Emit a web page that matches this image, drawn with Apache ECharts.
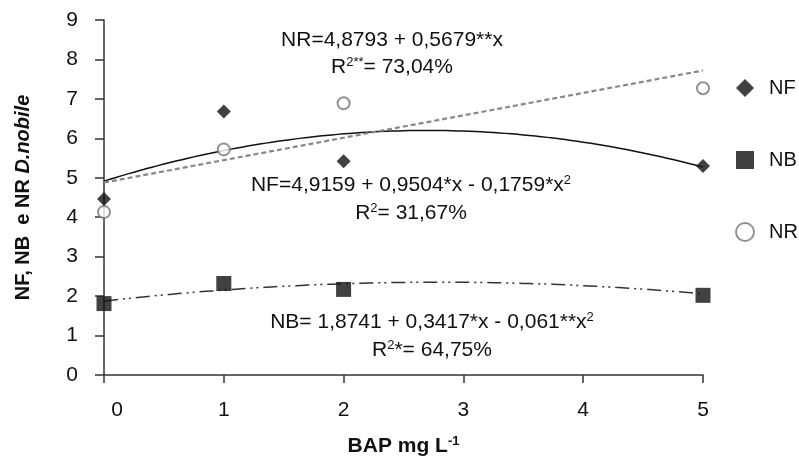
<!DOCTYPE html>
<html>
<head>
<meta charset="utf-8">
<script src="https://cdn.jsdelivr.net/npm/echarts@6/dist/echarts.min.js"></script>
<style>
  html, body { margin: 0; padding: 0; background: #fff; }
  #chart { width: 799px; height: 462px; }
</style>
</head>
<body>
<div id="chart"></div>
<script>
// BAP doses (mg L-1)
const doses = [0, 1, 2, 5];
// observed means per dose
const nfValues = [4.46, 6.68, 5.42, 5.30];
const nbValues = [1.81, 2.32, 2.17, 2.02];
const nrValues = [4.13, 5.72, 6.89, 7.27];
// fitted regression coefficients [c0, c1, c2]
const nfCoef = [4.9159, 0.9504, -0.1759];
const nbCoef = [1.8741, 0.3417, -0.061];
const nrCoef = [4.8793, 0.5679, 0];
// axis ticks
const xTicks = [0, 1, 2, 3, 4, 5];
const yTicks = [0, 1, 2, 3, 4, 5, 6, 7, 8, 9];

const FONT = 'Liberation Sans, Arial, sans-serif';

function pairs(xs, ys) { return xs.map((x, i) => [x, ys[i]]); }
function fitCurve(c) {
  const pts = [];
  for (let i = 0; i <= 100; i++) {
    const x = xTicks[xTicks.length - 1] * i / 100;
    pts.push([x, c[0] + c[1] * x + c[2] * x * x]);
  }
  return pts;
}

const chart = echarts.init(document.getElementById('chart'), null, { renderer: 'canvas' });

const eqRich = {
  t: { fontSize: 21, fontFamily: FONT, color: '#111', lineHeight: 23 },
  s: { fontSize: 13, fontFamily: FONT, color: '#111', verticalAlign: 'top', lineHeight: 13 }
};
function eqText(x, y, text) {
  return {
    type: 'text', x: x, y: y, z: 10,
    style: { text: text, rich: eqRich, align: 'center', verticalAlign: 'middle', fill: '#111' }
  };
}

chart.setOption({
  backgroundColor: '#fff',
  animation: false,
  grid: { left: 104, right: 96, top: 20, bottom: 85 },
  xAxis: {
    type: 'value', min: xTicks[0], max: xTicks[xTicks.length - 1], interval: 1,
    name: '{b|BAP mg L}{s|-1}',
    nameLocation: 'middle', nameGap: 60,
    nameTextStyle: {
      rich: {
        b: { fontSize: 21, fontWeight: 'bold', fontFamily: FONT, color: '#111', lineHeight: 23 },
        s: { fontSize: 13, fontWeight: 'bold', fontFamily: FONT, color: '#111', verticalAlign: 'top', lineHeight: 13 }
      }
    },
    axisLine: { lineStyle: { color: '#333', width: 1.5 } },
    axisTick: { length: 8, lineStyle: { color: '#333', width: 1.5 } },
    splitLine: { show: false },
    axisLabel: {
      margin: 25, fontSize: 21, fontFamily: FONT, color: '#111',
      formatter: function (v) { return v === xTicks[0] ? '{z|' + v + '}' : String(v); },
      rich: { z: { fontSize: 21, fontFamily: FONT, color: '#111', padding: [0, 0, 0, 26] } }
    }
  },
  yAxis: {
    type: 'value', min: yTicks[0], max: yTicks[yTicks.length - 1], interval: 1,
    name: '{b|NF, NB  e NR }{i|D.nobile}',
    nameLocation: 'middle', nameGap: 71, nameRotate: 90,
    nameTextStyle: {
      rich: {
        b: { fontSize: 20, fontWeight: 'bold', fontFamily: FONT, color: '#111' },
        i: { fontSize: 20, fontWeight: 'bold', fontStyle: 'italic', fontFamily: FONT, color: '#111' }
      }
    },
    axisLine: { show: true, lineStyle: { color: '#333', width: 1.5 } },
    axisTick: { show: true, length: 9, lineStyle: { color: '#333', width: 1.5 } },
    splitLine: { show: false },
    axisLabel: { margin: 26, fontSize: 21, fontFamily: FONT, color: '#111' }
  },
  legend: {
    orient: 'vertical', left: 730, top: 73, itemGap: 52,
    itemWidth: 18, itemHeight: 18,
    textStyle: { fontSize: 20, fontFamily: FONT, color: '#111', padding: [0, 0, 0, 10] },
    data: [
      { name: 'NF', icon: 'diamond', itemStyle: { color: '#111' } },
      { name: 'NB', icon: 'rect', itemStyle: { color: '#111' } },
      { name: 'NR', icon: 'circle', itemStyle: { color: '#fff', borderColor: '#777', borderWidth: 2 } }
    ]
  },
  series: [
    {
      name: 'NF fit', type: 'line', data: fitCurve(nfCoef), showSymbol: false, silent: true,
      lineStyle: { color: '#111', width: 1.5 }, z: 2
    },
    {
      name: 'NB fit', type: 'line', data: fitCurve(nbCoef), showSymbol: false, silent: true,
      lineStyle: { color: '#333', width: 1.5, type: [14, 5, 2, 4, 2, 5] }, z: 2
    },
    {
      name: 'NR fit', type: 'line', data: fitCurve(nrCoef), showSymbol: false, silent: true,
      lineStyle: { color: '#888', width: 2.2, type: [5, 3] }, z: 2
    },
    {
      name: 'NF', type: 'scatter', data: pairs(doses, nfValues),
      symbol: 'diamond', symbolSize: 14, itemStyle: { color: '#111' }, z: 5
    },
    {
      name: 'NB', type: 'scatter', data: pairs(doses, nbValues),
      symbol: 'rect', symbolSize: 15, itemStyle: { color: '#111' }, z: 5
    },
    {
      name: 'NR', type: 'scatter', data: pairs(doses, nrValues),
      symbol: 'circle', symbolSize: 12,
      itemStyle: { color: '#fff', borderColor: '#777', borderWidth: 2 }, z: 5
    }
  ],
  graphic: [
    eqText(392, 40, '{t|NR=4,8793 + 0,5679**x}'),
    eqText(392, 67, '{t|R}{s|2**}{t|= 73,04%}'),
    eqText(411, 185, '{t|NF=4,9159 + 0,9504*x - 0,1759*x}{s|2}'),
    eqText(411, 213, '{t|R}{s|2}{t|= 31,67%}'),
    eqText(432, 322, '{t|NB= 1,8741 + 0,3417*x - 0,061**x}{s|2}'),
    eqText(432, 350, '{t|R}{s|2}{t|*= 64,75%}')
  ]
});
</script>
</body>
</html>
